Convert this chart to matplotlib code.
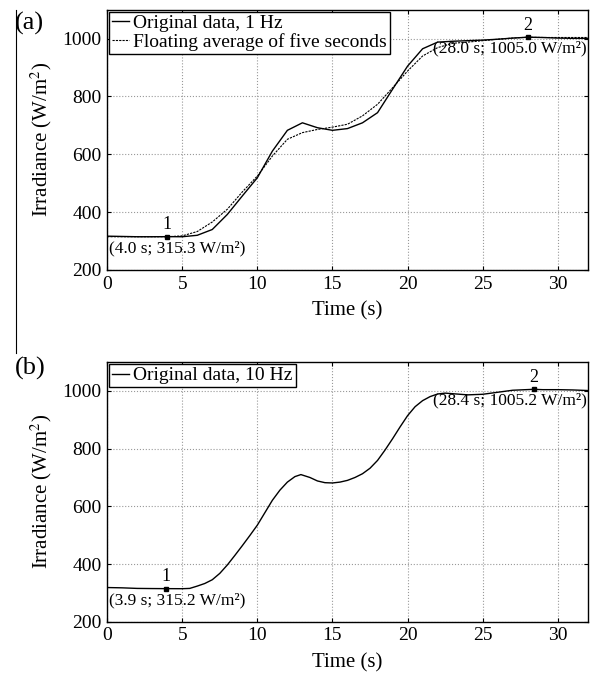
import matplotlib.pyplot as plt
from matplotlib.lines import Line2D

plt.rcParams["font.family"] = ["Liberation Serif", "DejaVu Serif"]
plt.rcParams["mathtext.fontset"] = "stix"

# (a) 1 Hz data and five-second floating average
t_1hz = list(range(0, 33))
irr_1hz = [317, 316, 315, 315, 315.3, 315, 320, 340, 392, 456, 519, 611, 683,
           709, 692, 683, 689, 709, 744, 825, 905, 965, 988, 991, 993, 995,
           998, 1002, 1005.0, 1004, 1002, 1001, 1001]
irr_avg = [315, 315, 315, 315, 315, 318, 333, 366, 410, 470, 525, 594, 652,
           675, 686, 694, 704, 733, 773, 830, 888, 940, 969, 984, 988, 993,
           998, 1002, 1005, 1004, 1004, 1004, 1004]

# (b) 10 Hz data (read every 0.5 s)
t_10hz = [0, 1, 2, 3, 3.9, 5, 5.5, 6, 6.5, 7, 7.5, 8, 8.5, 9, 9.5, 10, 10.5,
          11, 11.5, 12, 12.5, 12.9, 13.5, 14, 14.5, 15, 15.5, 16, 16.5, 17,
          17.5, 18, 18.5, 19, 19.5, 20, 20.5, 21, 21.5, 22, 22.5, 23, 24, 25,
          26, 27, 28.4, 29, 30, 31, 32]
irr_10hz = [319, 318, 316, 315.5, 315.2, 315, 316, 324, 333, 346, 368, 397,
            430, 464, 499, 535, 578, 621, 656, 684, 703, 710, 700, 688, 682,
            681, 684, 690, 700, 713, 732, 759, 795, 834, 875, 914, 945, 966,
            980, 989, 992, 990, 986, 988, 995, 1002, 1005.2, 1004, 1004, 1003,
            1001]

marks_a = [(4.0, 315.3, "1", "(4.0 s; 315.3 W/m²)"),
           (28.0, 1005.0, "2", "(28.0 s; 1005.0 W/m²)")]
marks_b = [(3.9, 315.2, "1", "(3.9 s; 315.2 W/m²)"),
           (28.4, 1005.2, "2", "(28.4 s; 1005.2 W/m²)")]

fig = plt.figure(figsize=(5.95, 6.76), dpi=100)
ax_a = fig.add_axes([0.180, 0.6006, 0.808, 0.385])
ax_b = fig.add_axes([0.180, 0.080, 0.808, 0.3846])


def style(ax):
    ax.set_xlim(0, 32)
    ax.set_ylim(200, 1100)
    ax.set_xticks([0, 5, 10, 15, 20, 25, 30])
    ax.set_yticks([200, 400, 600, 800, 1000])
    ax.tick_params(direction="in", length=3, labelsize=14, top=True,
                   right=True, pad=4)
    ax.grid(True, linestyle=":", color="#999999", linewidth=0.8)
    ax.set_xlabel("Time (s)", fontsize=15, labelpad=6)
    ax.set_ylabel("Irradiance (W/m$^2$)", fontsize=15, labelpad=6)
    for sp in ax.spines.values():
        sp.set_linewidth(1.0)


def annotate(ax, marks):
    for i, (x, y, num, txt) in enumerate(marks):
        ax.plot([x], [y], "s", color="black", markersize=2.5)
        ax.text(x, y + 12, num, ha="center", va="bottom", fontsize=13)
        if i == 0:
            ax.text(0.15, y - 12, txt, ha="left", va="top", fontsize=12.5)
        else:
            ax.text(31.95, y - 12, txt, ha="right", va="top", fontsize=12.5)


ax_a.plot(t_1hz, irr_1hz, color="black", linewidth=1.0,
          label="Original data, 1 Hz")
ax_a.plot(t_1hz, irr_avg, color="black", linewidth=0.8, linestyle=(0, (2, 1)),
          label="Floating average of five seconds")
style(ax_a)
annotate(ax_a, marks_a)

ax_b.plot(t_10hz, irr_10hz, color="black", linewidth=1.0,
          label="Original data, 10 Hz")
style(ax_b)
annotate(ax_b, marks_b)

for ax in (ax_a, ax_b):
    leg = ax.legend(loc="upper left", fontsize=14, handlelength=0.9,
                    handletextpad=0.2, borderpad=0.15, borderaxespad=0.1,
                    labelspacing=0.05, fancybox=False, framealpha=1)
    leg.get_frame().set_edgecolor("black")
    leg.get_frame().set_linewidth(1.0)

fig.text(0.025, 0.965, "(a)", fontsize=19, ha="left", va="center")
fig.text(0.025, 0.455, "(b)", fontsize=19, ha="left", va="center")

# thin border line at the left edge of panel (a)
fig.add_artist(Line2D([0.027, 0.027], [0.478, 0.985], color="black",
                      linewidth=0.8, transform=fig.transFigure))

fig.savefig("out.png", dpi=100)
